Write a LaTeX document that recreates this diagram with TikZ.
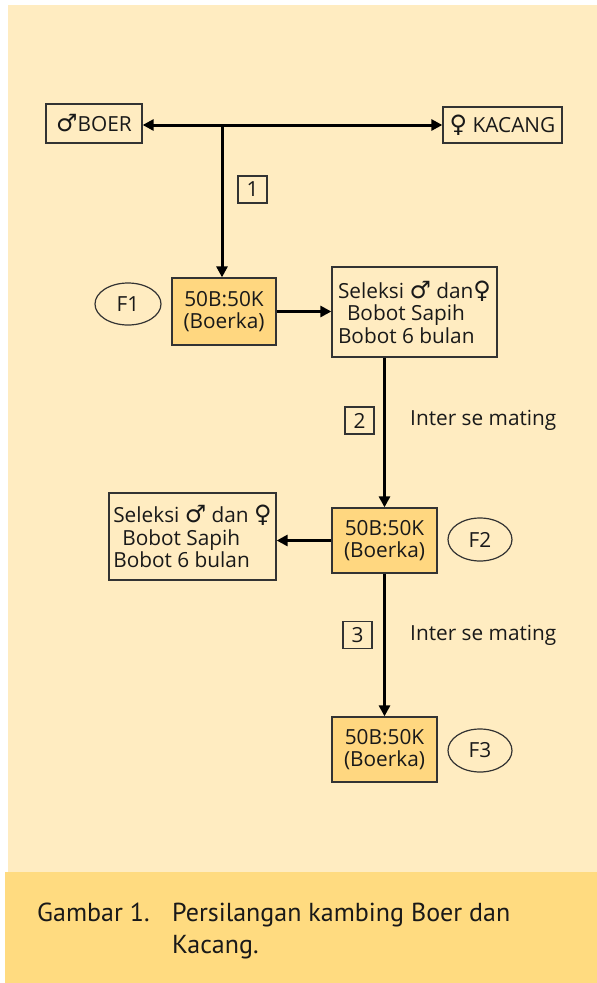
\documentclass[tikz,border=0pt]{standalone}
\usepackage{fontspec}
\setmainfont{Open Sans}
\newfontfamily\symf[Scale=1.15]{DejaVu Sans}
\newfontfamily\capf{PT Sans}
\usetikzlibrary{arrows.meta,shapes.geometric}
\definecolor{bglight}{HTML}{FFECC1}
\definecolor{bgcap}{HTML}{FFDB80}
\definecolor{boxfill}{HTML}{FFD780}
\definecolor{edge}{HTML}{333333}
\newcommand{\male}{{\symf ♂}}
\newcommand{\female}{{\symf ♀}}
\tikzset{
  txt/.style={font=\fontsize{20.8}{22.5}\selectfont, text=black!90},
  plainbox/.style={txt, draw=edge, line width=1.3pt, fill=bglight, inner sep=0pt},
  genbox/.style={plainbox, fill=boxfill, align=center},
  selbox/.style={plainbox, align=left},
  gen/.style={txt, ellipse, draw=edge, line width=1.2pt, inner sep=0pt},
  numbox/.style={txt, draw=edge, line width=1.2pt, inner sep=0pt, minimum width=29pt, minimum height=27pt},
  conn/.style={line width=3pt, -{Triangle[length=11pt,width=11pt]}},
  conn2/.style={line width=3pt, {Triangle[length=11pt,width=11pt]}-{Triangle[length=11pt,width=11pt]}},
  captxt/.style={font=\capf\fontsize{26}{32}\selectfont, text=black!90, inner sep=0pt}
}
\begin{document}
\begin{tikzpicture}[x=1pt,y=-1pt]
\useasboundingbox (0,0) rectangle (597,983);
\fill[white] (0,0) rectangle (597,983);
\fill[bglight] (8,5) rectangle (597,872);
\fill[bgcap] (5,872) rectangle (597,983);

% parents
\node[plainbox, minimum width=96pt, minimum height=39pt] (boer) at (94,123.5) {\male BOER};
\node[plainbox, minimum width=119pt, minimum height=36pt] (kacang) at (502.5,125) {\female\ KACANG};
\coordinate (j) at (222,125);

% F1
\node[genbox, minimum width=104pt, minimum height=67pt] (f1) at (224,311.5) {50B:50K\\(Boerka)};
\node[gen, minimum width=66pt, minimum height=42pt] (f1e) at (128,304) {F1};
\node[selbox, minimum width=165pt, minimum height=90pt] (s1) at (414.5,312)
  {Seleksi \male\ dan\female\\\hspace*{9pt}Bobot Sapih\\Bobot 6 bulan};

% F2
\node[genbox, minimum width=105pt, minimum height=65pt] (f2) at (384.5,540.5) {50B:50K\\(Boerka)};
\node[gen, minimum width=64pt, minimum height=43pt] (f2e) at (480,539.5) {F2};
\node[selbox, minimum width=167pt, minimum height=87pt] (s2) at (192.5,536.5)
  {Seleksi \male\ dan \female\\\hspace*{9pt}Bobot Sapih\\Bobot 6 bulan};

% F3
\node[genbox, minimum width=105pt, minimum height=65pt] (f3) at (384.5,749.5) {50B:50K\\(Boerka)};
\node[gen, minimum width=64pt, minimum height=43pt] (f3e) at (480,750.5) {F3};

% step labels
\node[numbox] (n1) at (252.5,189.5) {1};
\node[numbox] (n2) at (359.5,420.5) {2};
\node[numbox] (n3) at (357.5,635) {3};
\node[txt, anchor=west, inner sep=0pt] (m2) at (410,420.5) {Inter se mating};
\node[txt, anchor=west, inner sep=0pt] (m3) at (410,635) {Inter se mating};

% connectors
\draw[conn2] (j -| boer.east) -- (j -| kacang.west);
\draw[conn] (j) -- (j |- f1.north);
\draw[conn] (f1.east) -- (f1.east -| s1.west);
\draw[conn] (s1.south -| f2.north) -- (f2.north);
\draw[conn] (f2.west) -- (f2.west -| s2.east);
\draw[conn] (f2.south) -- (f3.north);

% caption
\node[captxt, anchor=base west] (c1) at (37,921) {Gambar 1.};
\node[captxt, anchor=base west] (c2) at (172,921) {Persilangan kambing Boer dan};
\node[captxt, anchor=base west] (c3) at (172,953) {Kacang.};
\end{tikzpicture}
\end{document}
